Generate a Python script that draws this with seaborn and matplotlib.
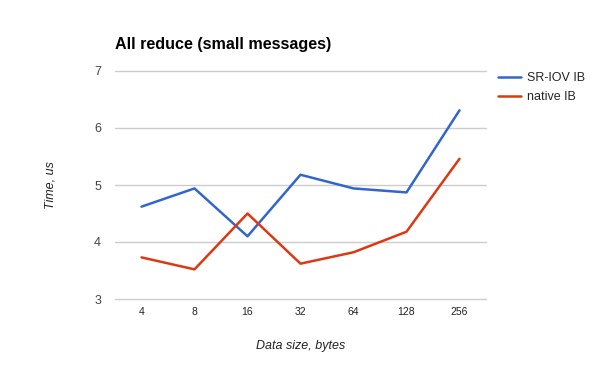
import matplotlib
matplotlib.use("Agg")
import matplotlib.pyplot as plt
import seaborn as sns
import pandas as pd
from matplotlib.lines import Line2D

sizes = ["4", "8", "16", "32", "64", "128", "256"]
sriov = [4.62, 4.94, 4.10, 5.18, 4.94, 4.87, 6.31]
native = [3.73, 3.52, 4.50, 3.62, 3.82, 4.18, 5.46]
series_names = ["SR-IOV IB", "native IB"]
yticks = [3, 4, 5, 6, 7]

sns.set_theme(style="white")
plt.rcParams['font.family'] = ['Liberation Sans', 'DejaVu Sans']

df = pd.DataFrame({
    "size": sizes * 2,
    "time": sriov + native,
    "series": [series_names[0]] * len(sizes) + [series_names[1]] * len(sizes),
})
df["x"] = list(range(len(sizes))) * 2

fig = plt.figure(figsize=(6, 3.71), dpi=100)
ax = fig.add_axes([115/600, 1-299/371, (486-115)/600, (299-71)/371])
sns.lineplot(data=df, x="x", y="time", hue="series",
             palette=["#3366cc", "#dc3912"], linewidth=1.8, ax=ax, legend=False)

ax.set_xlim(-0.5, len(sizes) - 0.5)
ax.set_ylim(3, 7)
ax.set_yticks(yticks)
ax.set_yticklabels([str(t) for t in yticks], fontsize=9, color="#444444")
ax.set_xticks(range(len(sizes)))
ax.set_xticklabels(sizes, fontsize=7.5, color="#222222")
ax.tick_params(axis="both", length=0)
ax.tick_params(axis="y", pad=10)
ax.tick_params(axis="x", pad=6)
for s in ax.spines.values():
    s.set_visible(False)
ax.grid(axis="y", color="#cccccc", linewidth=1)
for gl in ax.get_ygridlines():
    gl.set_clip_on(False)
ax.set_axisbelow(True)
ax.set_xlabel("Data size, bytes", fontsize=9, style="italic", color="#222222", labelpad=16)
ax.set_ylabel("Time, us", fontsize=9, style="italic", color="#222222", labelpad=27)

fig.text(115/600, 1-44/371, "All reduce (small messages)", fontsize=11.6,
         fontweight="bold", color="#000000", va="center", ha="left")

handles = [Line2D([0], [0], color="#3366cc", lw=1.8),
           Line2D([0], [0], color="#dc3912", lw=1.8)]
fig.legend(handles, series_names, loc="upper left", bbox_to_anchor=(493/600, 1-67/371),
           frameon=False, fontsize=9, handlelength=1.8, handletextpad=0.5,
           labelspacing=0.6, borderaxespad=0)

fig.savefig("out.png", dpi=100, facecolor="white")
